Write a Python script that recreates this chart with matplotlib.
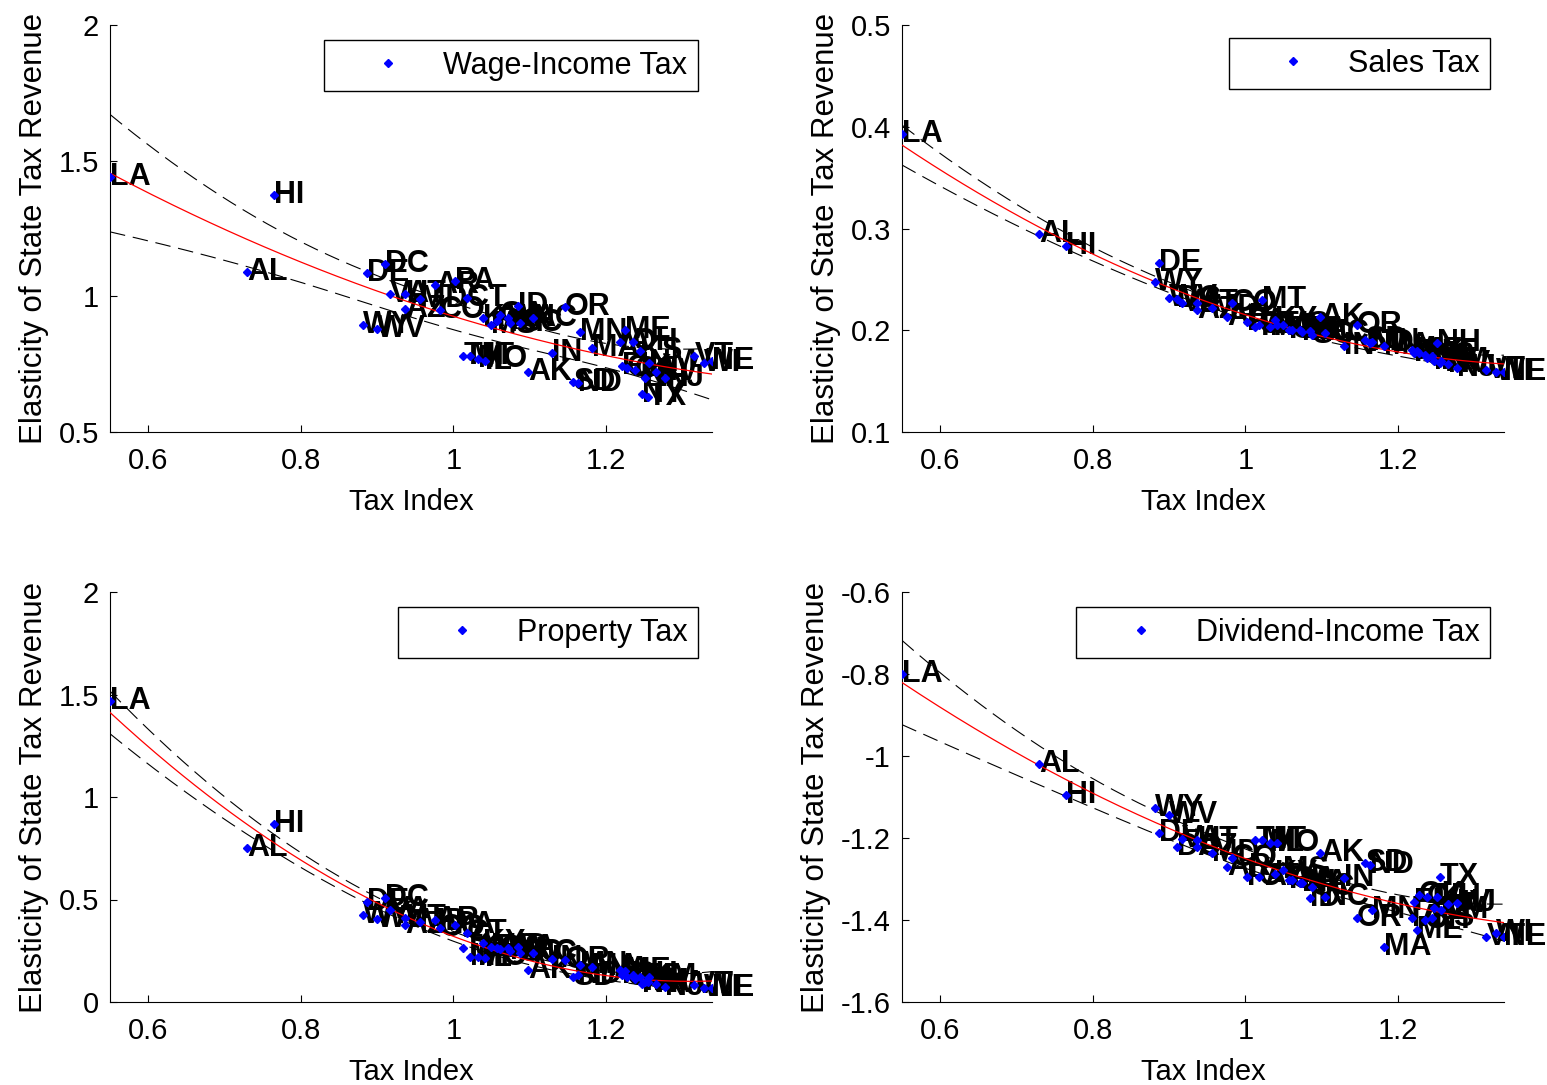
import numpy as np
import matplotlib.pyplot as plt

plt.rcParams['font.family'] = ['Liberation Sans', 'DejaVu Sans']

# ── data ─────────────────────────────────────────────────────────────────────

states = ["LA", "AL", "HI", "WY", "DE", "WV", "DC", "VA", "UT", "AZ",
          "MD", "AR", "CO", "PA", "TN", "CT", "MT", "MO", "KY", "IL",
          "MS", "RI", "GA", "WA", "MI", "ID", "SC", "AK", "NC", "IN",
          "OR", "SD", "ND", "MN", "MA", "IA", "FL", "ME", "OK", "OH",
          "CA", "KS", "NY", "NH", "TX", "NM", "NV", "NJ", "VT", "WI", "NE"]

tax_index = [0.550, 0.730, 0.765, 0.882, 0.887, 0.900, 0.910, 0.917, 0.937, 0.937,
             0.956, 0.976, 0.982, 1.002, 1.013, 1.018, 1.022, 1.032, 1.039, 1.041,
             1.050, 1.057, 1.061, 1.071, 1.074, 1.085, 1.087, 1.098, 1.104, 1.129,
             1.146, 1.157, 1.163, 1.166, 1.182, 1.218, 1.221, 1.225, 1.227, 1.235,
             1.238, 1.244, 1.247, 1.251, 1.255, 1.257, 1.265, 1.277, 1.316, 1.329, 1.339]

wage_income = [1.44, 1.09, 1.375, 0.895, 1.085, 0.88, 1.12, 1.01, 1.01, 0.955,
               0.99, 1.04, 0.95, 1.055, 0.78, 0.995, 0.78, 0.77, 0.92, 0.76,
               0.895, 0.91, 0.93, 0.92, 0.90, 0.965, 0.90, 0.72, 0.92, 0.79,
               0.96, 0.685, 0.68, 0.87, 0.81, 0.83, 0.745, 0.875, 0.735, 0.83,
               0.73, 0.80, 0.64, 0.70, 0.63, 0.755, 0.72, 0.70, 0.78, 0.755, 0.76]

sales = [0.393, 0.295, 0.283, 0.247, 0.266, 0.232, 0.231, 0.227, 0.227, 0.220,
         0.222, 0.213, 0.227, 0.208, 0.203, 0.205, 0.230, 0.203, 0.210, 0.205,
         0.205, 0.200, 0.200, 0.200, 0.198, 0.199, 0.195, 0.213, 0.197, 0.185,
         0.205, 0.190, 0.187, 0.188, 0.185, 0.181, 0.178, 0.180, 0.178, 0.176,
         0.173, 0.175, 0.170, 0.1875, 0.168, 0.170, 0.167, 0.163, 0.161, 0.159, 0.159]

property_tax = [1.47, 0.75, 0.87, 0.424, 0.49, 0.405, 0.507, 0.45, 0.41, 0.376,
                0.39, 0.40, 0.36, 0.376, 0.263, 0.337, 0.22, 0.22, 0.288, 0.215,
                0.27, 0.263, 0.26, 0.263, 0.25, 0.27, 0.24, 0.156, 0.24, 0.21,
                0.205, 0.12, 0.13, 0.18, 0.17, 0.156, 0.13, 0.15, 0.12, 0.13,
                0.11, 0.12, 0.09, 0.10, 0.10, 0.12, 0.09, 0.073, 0.083, 0.068, 0.068]

dividend_income = [-0.80, -1.02, -1.095, -1.127, -1.188, -1.144, -1.222, -1.202, -1.205, -1.222,
                   -1.237, -1.27, -1.249, -1.295, -1.205, -1.295, -1.205, -1.212, -1.288, -1.212,
                   -1.278, -1.302, -1.302, -1.31, -1.31, -1.346, -1.32, -1.237, -1.343, -1.298,
                   -1.395, -1.261, -1.266, -1.376, -1.466, -1.395, -1.356, -1.424, -1.339, -1.40,
                   -1.343, -1.395, -1.371, -1.343, -1.295, -1.376, -1.36, -1.359, -1.441, -1.432, -1.441]

panel_names = ["Wage-Income Tax", "Sales Tax", "Property Tax", "Dividend-Income Tax"]
panel_data = [wage_income, sales, property_tax, dividend_income]
panel_ylim = [(0.5, 2.0), (0.1, 0.5), (0.0, 2.0), (-1.6, -0.6)]
panel_yticks = [[0.5, 1, 1.5, 2], [0.1, 0.2, 0.3, 0.4, 0.5],
                [0, 0.5, 1, 1.5, 2], [-1.6, -1.4, -1.2, -1, -0.8, -0.6]]
xticks = [0.6, 0.8, 1.0, 1.2]


# ── helpers ──────────────────────────────────────────────────────────────────

def _fmt(v):
    return f"{v:g}"


def _quad_fit(x, y, xs, crit=2.90):
    # quadratic fit with simultaneous 95% band
    X = np.vander(x, 3)
    coef, *_ = np.linalg.lstsq(X, y, rcond=None)
    s2 = ((y - X @ coef) ** 2).sum() / (len(x) - 3)
    cov = np.linalg.inv(X.T @ X)
    Xs = np.vander(xs, 3)
    fit = Xs @ coef
    se = np.sqrt(s2 * np.einsum("ij,jk,ik->i", Xs, cov, Xs))
    return fit, fit - crit * se, fit + crit * se


# ── figure ───────────────────────────────────────────────────────────────────

W, H = 1547, 1085
fig = plt.figure(figsize=(W / 100, H / 100), dpi=100)

# axes boxes in pixels: left, top, right, bottom
boxes = [(110, 25, 712, 432), (902, 25, 1504, 432),
         (110, 592, 712, 1002), (902, 592, 1504, 1002)]
legend_anchor = [(698, 40), (1490, 38), (698, 607), (1490, 607)]

x = np.array(tax_index)
xs = np.linspace(x.min(), x.max(), 200)

for i, (name, ydata) in enumerate(zip(panel_names, panel_data)):
    l, t, r, b = boxes[i]
    ax = fig.add_axes([l / W, 1 - b / H, (r - l) / W, (b - t) / H])
    y = np.array(ydata)

    fit, lo, hi = _quad_fit(x, y, xs)
    ax.plot(xs, fit, color="red", lw=0.9, zorder=4)
    ax.plot(xs, lo, color="black", lw=0.8, dashes=(14, 7), zorder=4)
    ax.plot(xs, hi, color="black", lw=0.8, dashes=(14, 7), zorder=4)

    for sx, sy, st in zip(x, y, states):
        ax.text(sx, sy, st, fontsize=22, fontweight="bold", ha="left",
                va="center", color="black", zorder=3, clip_on=False)
    ax.plot(x, y, linestyle="none", marker="D", ms=4.5, color="blue",
            mec="blue", label=name, zorder=5)

    ax.set_xlim(x.min(), x.max())
    ax.set_ylim(*panel_ylim[i])
    ax.set_xticks(xticks)
    ax.set_xticklabels([_fmt(v) for v in xticks])
    ax.set_yticks(panel_yticks[i])
    ax.set_yticklabels([_fmt(v) for v in panel_yticks[i]])
    ax.tick_params(direction="in", length=5, labelsize=21)
    ax.tick_params(axis="x", pad=11)
    ax.tick_params(axis="y", pad=8)
    for side in ("top", "right"):
        ax.spines[side].set_visible(False)
    ax.set_xlabel("Tax Index", fontsize=21, labelpad=9)
    ax.set_ylabel("Elasticity of State Tax Revenue", fontsize=22.5, labelpad=7)

    lx, ly = legend_anchor[i]
    leg = ax.legend(loc="upper right",
                    bbox_to_anchor=((lx - l) / (r - l), (b - ly) / (b - t)),
                    fontsize=22, numpoints=1, handlelength=3.5,
                    handletextpad=0.05, borderpad=0.35, fancybox=False,
                    framealpha=1, edgecolor="black", borderaxespad=0)
    leg.get_frame().set_linewidth(1.0)

fig.savefig("out.png", dpi=100)
